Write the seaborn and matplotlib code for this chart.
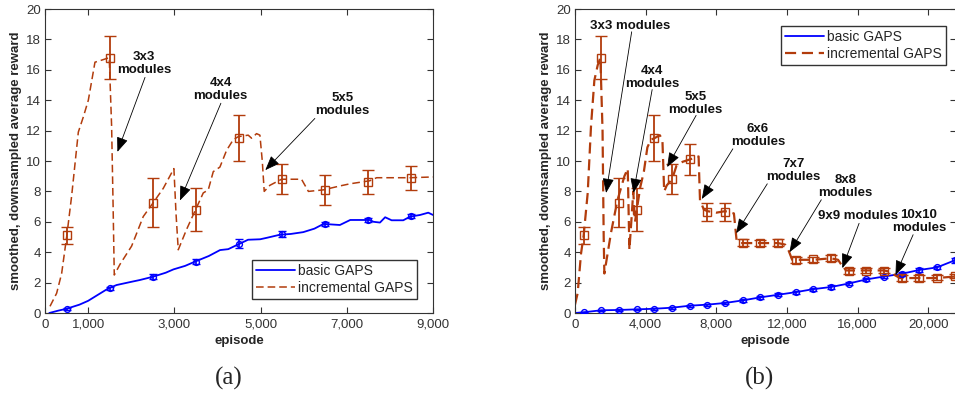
import numpy as np
import pandas as pd
import matplotlib
matplotlib.use("Agg")
import matplotlib.pyplot as plt
import seaborn as sns

# ---------------- data: panel (a) ----------------
ep_basic_a = [100, 300, 500, 800, 1000, 1200, 1470, 1660, 2000, 2200, 2510, 2800, 2980,
              3250, 3480, 3800, 4060, 4250, 4450, 4710, 4990, 5150, 5450, 5700, 5990,
              6250, 6460, 6840, 7080, 7530, 7620, 7770, 7890, 8040, 8310, 8470, 8700,
              8890, 9000]
rew_basic_a = [0.0, 0.15, 0.28, 0.55, 0.8, 1.15, 1.62, 1.84, 2.05, 2.17, 2.39, 2.65, 2.87,
               3.1, 3.38, 3.75, 4.14, 4.2, 4.47, 4.82, 4.85, 4.95, 5.15, 5.2, 5.32,
               5.55, 5.86, 5.79, 6.12, 6.12, 6.0, 5.95, 6.3, 6.1, 6.1, 6.34, 6.45,
               6.6, 6.45]

ep_incr_a = [116, 270, 386, 502, 618, 773, 889, 1005, 1159, 1275, 1490, 1545, 1580, 1607,
             1739, 2009, 2280, 2496, 2743, 2990, 3040, 3091, 3284, 3493, 3671, 3787,
             3903, 4057, 4212, 4366, 4482, 4714, 4791, 4907, 4985, 5040, 5085, 5216,
             5487, 5757, 5950, 6110, 6455, 6843, 7075, 7535, 7693, 7998, 8466, 9000]
rew_incr_a = [0.44, 1.3, 2.6, 5.0, 7.7, 11.9, 12.9, 14.0, 16.5, 16.6, 16.8, 12.3, 7.0, 2.5,
              3.2, 4.4, 6.35, 7.2, 8.2, 9.5, 6.5, 4.16, 5.5, 6.8, 7.9, 8.1,
              9.3, 9.6, 10.7, 11.4, 11.6, 11.7, 11.5, 11.8, 11.7, 10.0, 8.0, 8.4,
              8.8, 8.8, 8.8, 8.0, 8.1, 8.36, 8.5, 8.7, 8.9, 8.9, 8.9, 8.95]

# sampled means with error bars, panel (a)
ep_mark_a = [500, 1500, 2500, 3500, 4500, 5500, 6500, 7500, 8500]
basic_mark_a = [0.28, 1.62, 2.4, 3.38, 4.55, 5.18, 5.85, 6.12, 6.38]
basic_err_a = [0.08, 0.12, 0.15, 0.18, 0.3, 0.2, 0.12, 0.15, 0.15]
incr_mark_a = [5.1, 16.8, 7.25, 6.8, 11.5, 8.8, 8.1, 8.6, 8.9]
incr_err_a = [0.55, 1.4, 1.6, 1.4, 1.5, 1.0, 1.0, 0.8, 0.8]

# ---------------- data: panel (b) ----------------
ep_basic_b = [0, 500, 1500, 2500, 3500, 4500, 5500, 6500, 7500, 8500, 9500, 10500, 11500,
              12500, 13500, 14500, 15500, 16500, 17500, 18500, 19500, 20500, 21500]
rew_basic_b = [0.0, 0.05, 0.18, 0.2, 0.24, 0.28, 0.35, 0.48, 0.55, 0.66, 0.83, 1.03, 1.2,
               1.37, 1.57, 1.71, 1.94, 2.21, 2.4, 2.58, 2.83, 3.0, 3.46]

ep_incr_b = [0, 150, 340, 490, 720, 907, 1096, 1285, 1437, 1560, 1625, 1663, 2042, 2400,
             2798, 2987, 3081, 3200, 3300, 3400, 3500, 3700, 3900, 4100, 4300, 4500,
             4800, 4950, 5050, 5200, 5500, 5750, 6100, 6500, 7000, 7080, 7300, 7500,
             8000, 8500, 9000, 9150, 9400, 10500, 11500, 11900, 12100, 12300, 13500,
             14500, 14900, 15100, 15350, 16500, 17500, 17900, 18100, 18400, 19500,
             20500, 21500]
rew_incr_b = [0.55, 1.3, 3.9, 5.1, 7.9, 12.3, 15.3, 16.3, 16.8, 12.0, 5.0, 2.6, 5.3, 7.4,
              9.0, 9.5, 4.15, 6.2, 8.0, 6.0, 6.8, 8.3, 9.3, 10.9, 11.4, 11.5,
              11.7, 11.4, 8.0, 8.4, 8.8, 9.7, 9.95, 10.1, 10.3, 7.4, 6.8, 6.7,
              6.6, 6.7, 6.55, 4.8, 4.6, 4.6, 4.6, 4.5, 4.1, 3.5, 3.5,
              3.6, 3.5, 3.15, 2.8, 2.8, 2.8, 2.7, 2.5, 2.3, 2.3,
              2.3, 2.4]

ep_mark_b = [500, 1500, 2500, 3500, 4500, 5500, 6500, 7500, 8500, 9500, 10500, 11500,
             12500, 13500, 14500, 15500, 16500, 17500, 18500, 19500, 20500, 21500]
basic_mark_b = [0.05, 0.18, 0.2, 0.24, 0.28, 0.35, 0.48, 0.55, 0.66, 0.83, 1.03, 1.2,
                1.37, 1.57, 1.71, 1.94, 2.21, 2.4, 2.58, 2.83, 3.0, 3.46]
basic_err_b = [0.04, 0.05, 0.05, 0.05, 0.06, 0.06, 0.07, 0.07, 0.08, 0.08, 0.08, 0.1,
               0.1, 0.1, 0.1, 0.1, 0.12, 0.12, 0.12, 0.12, 0.12, 0.15]
incr_mark_b = [5.1, 16.8, 7.25, 6.8, 11.5, 8.8, 10.1, 6.66, 6.66, 4.63, 4.63, 4.63,
               3.5, 3.53, 3.62, 2.79, 2.79, 2.79, 2.28, 2.28, 2.32, 2.43]
incr_err_b = [0.55, 1.4, 1.6, 1.4, 1.5, 1.0, 1.0, 0.6, 0.6, 0.25, 0.2, 0.25,
              0.2, 0.15, 0.2, 0.2, 0.15, 0.15, 0.2, 0.2, 0.15, 0.15]

# annotations: (label, text position, arrow tail, arrow head)
notes_a = [
    ("3x3\nmodules", (2300, 16.4), (2320, 15.5), (1680, 10.6)),
    ("4x4\nmodules", (4070, 14.7), (4080, 13.8), (3130, 7.4)),
    ("5x5\nmodules", (6900, 13.7), (6260, 12.8), (5110, 9.4)),
]
notes_b = [
    ("3x3 modules", (3120, 18.9), (3210, 18.5), (1760, 7.9)),
    ("4x4\nmodules", (4370, 15.5), (4370, 14.7), (3310, 7.9)),
    ("5x5\nmodules", (6820, 13.8), (6860, 13.0), (5220, 9.6)),
    ("6x6\nmodules", (10360, 11.7), (8940, 10.8), (7180, 7.5)),
    ("7x7\nmodules", (12380, 9.4), (10890, 8.5), (9130, 5.25)),
    ("8x8\nmodules", (15330, 8.3), (13950, 7.45), (12150, 4.0)),
    ("9x9 modules", (16030, 6.4), (16090, 5.9), (15140, 2.95)),
    ("10x10\nmodules", (19470, 6.0), (19150, 5.15), (18150, 2.5)),
]

BLUE = "#0000ff"
RUST = "#b23c0c"
DASH = (0, (5, 2.6))

sns.set_style("ticks", {"xtick.direction": "in", "ytick.direction": "in"})
plt.rcParams["font.family"] = ["Liberation Sans", "DejaVu Sans"]

fig = plt.figure(figsize=(9.55, 3.94), dpi=100)
W, H = 955.0, 394.0
ax_a = fig.add_axes([45 / W, (H - 313) / H, 388 / W, 304 / H])
ax_b = fig.add_axes([575 / W, (H - 313) / H, 380.5 / W, 304 / H])


def draw_panel(ax, ep_b, rb, ep_i, ri, ep_m, bm, be, im, ie, notes, xmax, xticks,
               incr_lw, legend_anchor):
    df_b = pd.DataFrame({"episode": ep_b, "reward": rb})
    df_i = pd.DataFrame({"episode": ep_i, "reward": ri})
    sns.lineplot(data=df_b, x="episode", y="reward", ax=ax, color=BLUE, lw=1.3,
                 label="basic GAPS", sort=False)
    sns.lineplot(data=df_i, x="episode", y="reward", ax=ax, color=RUST, lw=incr_lw,
                 linestyle=DASH, label="incremental GAPS", sort=False)
    ax.errorbar(ep_m, bm, yerr=be, fmt="o", ms=4.2, mfc="none", mec=BLUE, mew=1.0,
                ecolor=BLUE, elinewidth=1.2, capsize=3, capthick=1.2, zorder=4)
    ax.errorbar(ep_m, im, yerr=ie, fmt="s", ms=5.2, mfc="none", mec=RUST, mew=1.0,
                ecolor=RUST, elinewidth=1.3, capsize=4, capthick=1.3, zorder=4)

    for label, txt, tail, head in notes:
        ax.text(txt[0], txt[1], label, ha="center", va="center", fontsize=9.5,
                fontweight="bold", linespacing=1.1, color="#111111", zorder=6)
        ax.annotate("", xy=head, xytext=tail,
                    arrowprops=dict(arrowstyle="-|>,head_length=0.9,head_width=0.35",
                                    color="black", lw=0.6, shrinkA=0, shrinkB=0),
                    zorder=6)

    ax.set_xlim(0, xmax)
    ax.set_ylim(0, 20)
    ax.set_yticks(np.arange(0, 21, 2))
    ax.set_xticks(xticks)
    ax.set_xticklabels([f"{t:,}" for t in xticks])
    ax.tick_params(axis="both", which="both", direction="in", length=4, width=0.8,
                   top=True, right=True, labelsize=9.5, labelcolor="#333333",
                   color="#333333")
    ax.tick_params(axis="x", pad=4)
    ax.tick_params(axis="y", pad=3)
    for s in ax.spines.values():
        s.set_visible(True)
        s.set_color("#333333")
        s.set_linewidth(0.8)
    ax.set_xlabel("episode", fontsize=9.5, fontweight="bold", labelpad=3)
    ax.set_ylabel("smoothed, downsampled average reward", fontsize=9.5,
                  fontweight="bold", labelpad=3)
    ax.grid(False)
    ax.set_facecolor("white")

    leg = ax.legend(loc="lower left", bbox_to_anchor=legend_anchor,
                    bbox_transform=fig.transFigure, fontsize=10, frameon=True,
                    fancybox=False, framealpha=1, edgecolor="#333333",
                    handlelength=2.8, handletextpad=0.2, borderpad=0.3,
                    labelspacing=0.2, borderaxespad=0)
    leg.get_frame().set_linewidth(1.0)


draw_panel(ax_a, ep_basic_a, rew_basic_a, ep_incr_a, rew_incr_a, ep_mark_a,
           basic_mark_a, basic_err_a, incr_mark_a, incr_err_a, notes_a, 9000,
           [0, 1000, 3000, 5000, 7000, 9000], 1.1, (252 / W, (H - 299) / H))
draw_panel(ax_b, ep_basic_b, rew_basic_b, ep_incr_b, rew_incr_b, ep_mark_b,
           basic_mark_b, basic_err_b, incr_mark_b, incr_err_b, notes_b, 21550,
           [0, 4000, 8000, 12000, 16000, 20000], 1.6, (781 / W, (H - 65) / H))

fig.text(229 / W, (H - 378) / H, "(a)", ha="center", va="center", fontsize=18,
         family=["Liberation Serif", "DejaVu Serif"])
fig.text(760 / W, (H - 378) / H, "(b)", ha="center", va="center", fontsize=18,
         family=["Liberation Serif", "DejaVu Serif"])

fig.savefig("out.png", dpi=100, facecolor="white")
